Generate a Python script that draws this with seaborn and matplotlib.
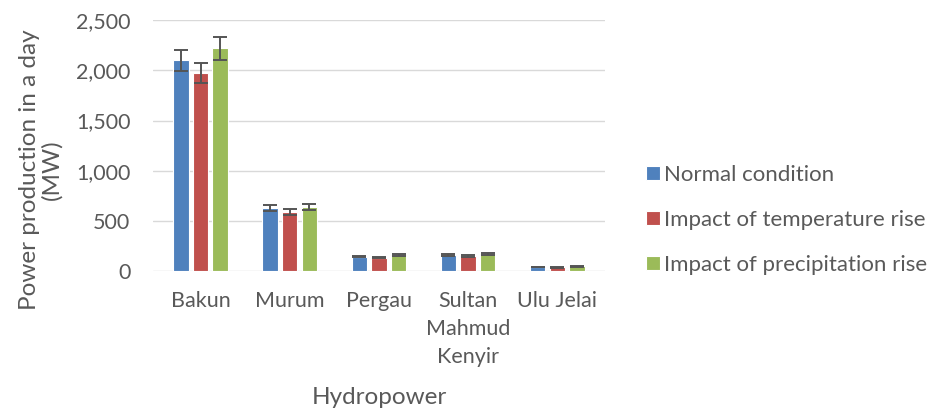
import pandas as pd
import matplotlib.pyplot as plt
import seaborn as sns
from matplotlib.ticker import StrMethodFormatter

plants = ['Bakun', 'Murum', 'Pergau', 'Sultan\nMahmud\nKenyir', 'Ulu Jelai']
conditions = ['Normal condition', 'Impact of temperature rise', 'Impact of precipitation rise']
normal = [2100, 625, 143, 160, 43]
temp_rise = [1975, 588, 133, 153, 37]
precip_rise = [2218, 640, 160, 172, 47]
normal_err = [105, 31, 7, 8, 2]
temp_err = [99, 29, 7, 8, 2]
precip_err = [111, 32, 8, 9, 2]
colors = ['#4F81BD', '#C0504D', '#9BBB59']

df = pd.DataFrame({
    'plant': plants * 3,
    'condition': [c for c in conditions for _ in plants],
    'power': normal + temp_rise + precip_rise,
})
errors = [normal_err, temp_err, precip_err]

sns.set_style('white')
plt.rcParams['font.family'] = ['Lato', 'DejaVu Sans']
text_col = '#595959'

fig = plt.figure(figsize=(9.31, 4.12), dpi=100)
ax = fig.add_axes([0.164, 0.342, 0.486, 0.609])

sns.barplot(data=df, x='plant', y='power', hue='condition', order=plants,
            hue_order=conditions, palette=colors, width=0.66, gap=0.22,
            edgecolor='white', linewidth=0.8, saturation=1, ax=ax)

# error bars on top of each bar
for cont, errs in zip(ax.containers, errors):
    xs = [b.get_x() + b.get_width() / 2 for b in cont]
    ys = [b.get_height() for b in cont]
    ax.errorbar(xs, ys, yerr=errs, fmt='none', ecolor='#555555',
                elinewidth=1.4, capsize=5, capthick=1.4, zorder=5)

ax.set_ylim(0, 2500)
ax.set_yticks(range(0, 2501, 500))
ax.yaxis.set_major_formatter(StrMethodFormatter('{x:,.0f}'))
ax.yaxis.grid(True, color='#D9D9D9', linewidth=1)
ax.set_axisbelow(True)
for s in ax.spines.values():
    s.set_visible(False)
ax.tick_params(axis='both', length=0, labelsize=15.5, colors=text_col)
ax.tick_params(axis='y', pad=16)
ax.tick_params(axis='x', pad=14)
for lab in ax.get_xticklabels():
    lab.set_linespacing(1.5)

ax.set_xlabel('Hydropower', fontsize=17.5, color=text_col, labelpad=15)
ax.set_ylabel('Power production in a day\n(MW)', fontsize=17.5, color=text_col,
              linespacing=1.05)
ax.yaxis.set_label_coords(-0.2, 0.405)

handles, labels = ax.get_legend_handles_labels()
ax.legend(handles, labels, loc='center left', bbox_to_anchor=(0.672, 0.466),
          bbox_transform=fig.transFigure, frameon=False, fontsize=16,
          labelcolor=text_col, handlelength=0.63, handleheight=0.6,
          handletextpad=0.2, labelspacing=1.13)

fig.savefig('out.png', dpi=100)
